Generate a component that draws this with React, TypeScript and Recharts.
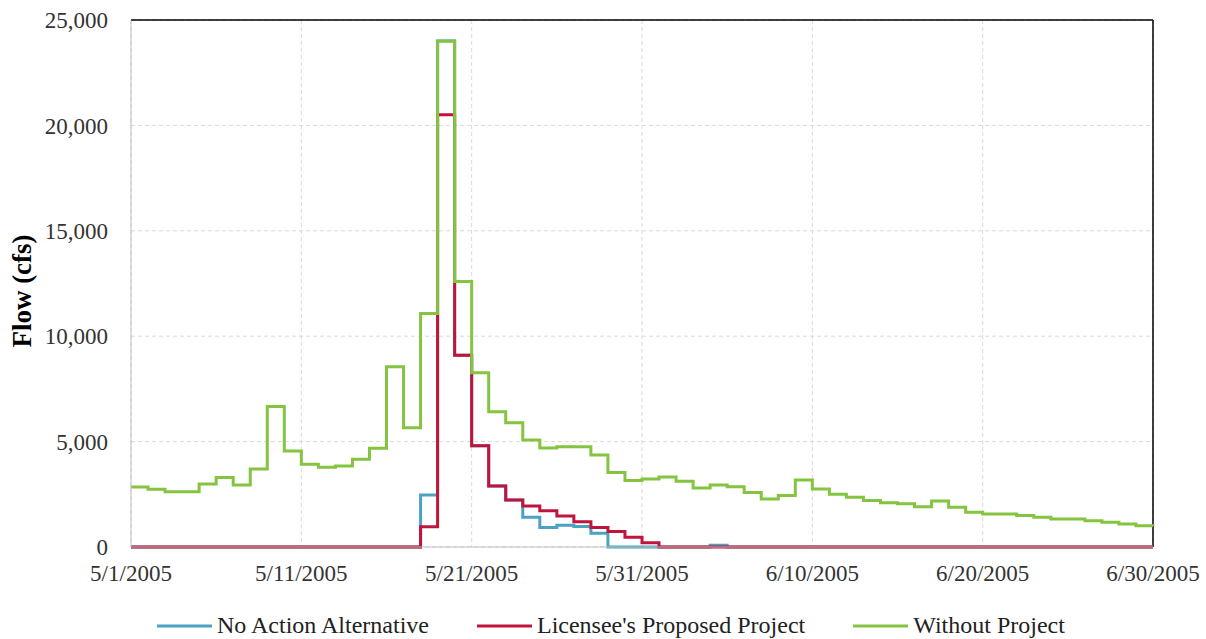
import { LineChart, Line, CartesianGrid, XAxis, YAxis, ReferenceLine } from 'recharts';

// day index 0 = 5/1/2005 ... 60 = 6/30/2005
const tickDays = [0, 10, 20, 30, 40, 50, 60];
const tickLabels = ['5/1/2005', '5/11/2005', '5/21/2005', '5/31/2005', '6/10/2005', '6/20/2005', '6/30/2005'];
const flowTicks = [0, 5000, 10000, 15000, 20000, 25000];

const noAction = [
    0, 0, 0, 0, 0, 0, 0, 0, 0, 0,
    0, 0, 0, 0, 0, 0, 0, 2470, 24000, 9100,
    4800, 2890, 2230, 1410, 930, 1030, 970, 650, 0, 0,
    0, 0, 0, 0, 80, 0, 0, 0, 0, 0,
    0, 0, 0, 0, 0, 0, 0, 0, 0, 0,
    0, 0, 0, 0, 0, 0, 0, 0, 0, 0,
    0,
];

const licensee = [
    0, 0, 0, 0, 0, 0, 0, 0, 0, 0,
    0, 0, 0, 0, 0, 0, 0, 960, 20500, 9100,
    4800, 2890, 2230, 1940, 1720, 1470, 1200, 920, 730, 460,
    200, 0, 0, 0, 0, 0, 0, 0, 0, 0,
    0, 0, 0, 0, 0, 0, 0, 0, 0, 0,
    0, 0, 0, 0, 0, 0, 0, 0, 0, 0,
    0,
];

const withoutProject = [
    2850, 2740, 2620, 2620, 2990, 3300, 2940, 3700, 6660, 4550,
    3920, 3780, 3840, 4160, 4680, 8550, 5660, 11080, 24000, 12600,
    8270, 6420, 5900, 5080, 4700, 4760, 4760, 4360, 3540, 3160,
    3220, 3320, 3120, 2800, 2940, 2860, 2580, 2280, 2440, 3180,
    2750, 2500, 2360, 2200, 2100, 2050, 1910, 2180, 1880, 1650,
    1570, 1570, 1490, 1410, 1330, 1330, 1250, 1170, 1090, 1010,
    1000,
];

const series = [
    { key: 'noAction', name: 'No Action Alternative', color: '#4BA3C3' },
    { key: 'licensee', name: "Licensee's Proposed Project", color: '#C0143C' },
    { key: 'without', name: 'Without Project', color: '#84C441' },
];

const data = withoutProject.map((v, i) => ({
    day: i,
    noAction: noAction[i],
    licensee: licensee[i],
    without: v,
}));

const font = '"Liberation Serif", "Times New Roman", serif';

function FlowLegend() {
    return (
        <div
            style={{
                position: 'absolute',
                left: 157,
                top: 612,
                display: 'flex',
                fontFamily: font,
                fontSize: 24,
                color: '#222',
                whiteSpace: 'nowrap',
            }}
        >
            {series.map((s) => (
                <div key={s.key} style={{ display: 'flex', alignItems: 'center', marginRight: 48 }}>
                    <svg width={55} height={4} style={{ marginRight: 5 }}>
                        <line x1={0} y1={2} x2={55} y2={2} stroke={s.color} strokeWidth={3} />
                    </svg>
                    <span>{s.name}</span>
                </div>
            ))}
        </div>
    );
}

// rotated axis title, left of the tick labels
const flowLabel = () => (
    <text
        x={22}
        y={291}
        transform="rotate(-90 22 291)"
        textAnchor="middle"
        dominantBaseline="central"
        fontFamily={font}
        fontSize={27}
        fontWeight="bold"
        fill="#000"
    >
        Flow (cfs)
    </text>
);

export default function App() {
    return (
        <div style={{ position: 'absolute', left: 0, top: 0, width: 1206, height: 639, background: '#fff' }}>
            <LineChart width={1206} height={639} data={data} margin={{ top: 20, right: 53, left: 0, bottom: 0 }}>
                <CartesianGrid stroke="#d9d9d9" strokeDasharray="4 3" />
                <XAxis
                    dataKey="day"
                    type="number"
                    domain={[0, 60]}
                    ticks={tickDays}
                    tickFormatter={(d) => tickLabels[tickDays.indexOf(d)]}
                    height={92}
                    tickLine={false}
                    tickSize={0}
                    tickMargin={18}
                    axisLine={{ stroke: '#bfbfbf' }}
                    tick={{ fontFamily: font, fontSize: 23, fill: '#333' }}
                />
                <YAxis
                    domain={[0, 25000]}
                    ticks={flowTicks}
                    width={131}
                    tickLine={false}
                    tickSize={0}
                    tickMargin={23}
                    axisLine={{ stroke: '#bfbfbf' }}
                    tickFormatter={(v) => v.toLocaleString('en-US')}
                    tick={{ fontFamily: font, fontSize: 23, fill: '#333' }}
                    label={flowLabel}
                />
                <ReferenceLine y={25000} stroke="#000" strokeWidth={1.5} />
                <ReferenceLine x={60} stroke="#000" strokeWidth={1.5} />
                {series.map((s) => (
                    <Line
                        key={s.key}
                        type="stepAfter"
                        dataKey={s.key}
                        name={s.name}
                        stroke={s.color}
                        strokeWidth={3}
                        dot={false}
                        isAnimationActive={false}
                    />
                ))}
            </LineChart>
            <FlowLegend />
        </div>
    );
}
